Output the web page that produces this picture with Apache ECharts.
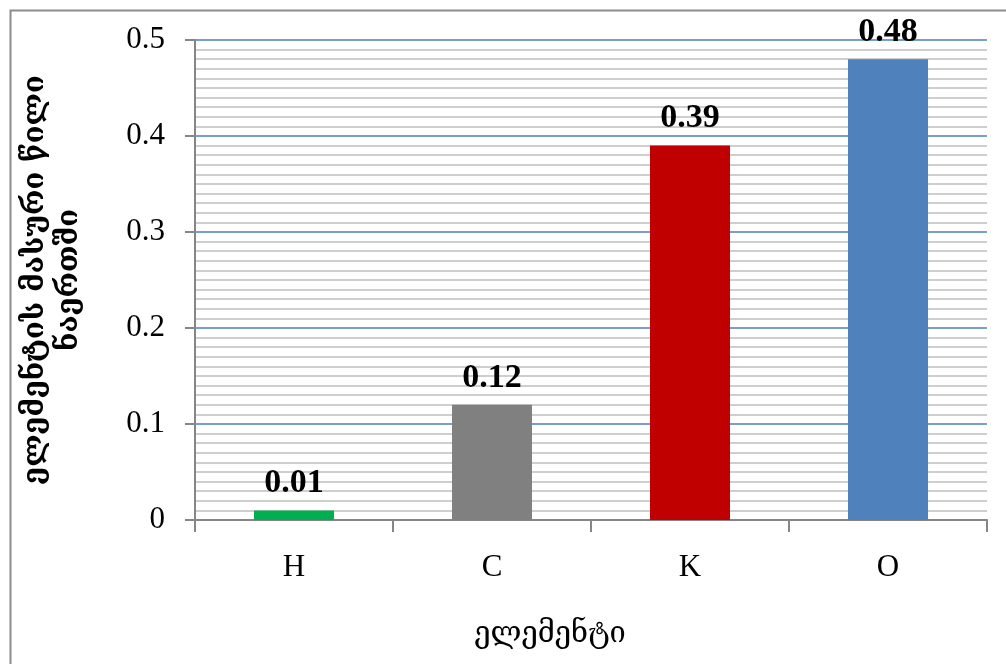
<!DOCTYPE html>
<html>
<head>
<meta charset="utf-8">
<script src="https://cdn.jsdelivr.net/npm/echarts@6/dist/echarts.min.js"></script>
<style>
  html, body { margin: 0; padding: 0; background: #ffffff; }
  #chart { width: 1006px; height: 664px; }
</style>
</head>
<body>
<div id="chart"></div>
<script>
// Mass fraction of each element in the compound
const elements = ['H', 'C', 'K', 'O'];
const massFractions = [0.01, 0.12, 0.39, 0.48];
const barColors = ['#00b050', '#808080', '#c00000', '#4f81bd'];
const yTicks = [0, 0.1, 0.2, 0.3, 0.4, 0.5];

const xAxisTitle = 'ელემენტი';
const yAxisTitle = 'ელემენტის მასური წილი\nნაერთში';

const serif = '"Liberation Serif", "DejaVu Serif", serif';
const georgian = '"DejaVu Serif", "DejaVu Sans", serif';

const chart = echarts.init(document.getElementById('chart'));

chart.setOption({
  backgroundColor: '#ffffff',
  animation: false,
  graphic: [{
    type: 'rect',
    left: 8, top: 8,
    shape: { width: 1100, height: 800 },
    style: { fill: 'none', stroke: '#8c8c8c', lineWidth: 2 },
    silent: true,
    z: -10
  }],
  grid: { left: 195, right: 19, top: 40, bottom: 144, containLabel: false },
  xAxis: {
    type: 'category',
    data: elements,
    boundaryGap: true,
    name: xAxisTitle,
    nameLocation: 'middle',
    nameGap: 100,
    nameTextStyle: {
      fontFamily: georgian, fontSize: 29, color: '#000',
      padding: [0, 82, 0, 0]
    },
    axisLine: { show: true, lineStyle: { color: '#868686', width: 2 } },
    axisTick: { show: true, alignWithLabel: false, length: 12, lineStyle: { color: '#868686', width: 2 } },
    axisLabel: { fontFamily: serif, fontSize: 31, color: '#000', margin: 32 },
    splitLine: { show: false }
  },
  yAxis: {
    type: 'value',
    min: yTicks[0],
    max: yTicks[yTicks.length - 1],
    interval: 0.1,
    name: yAxisTitle,
    nameLocation: 'middle',
    nameRotate: 90,
    nameGap: 109,
    nameTextStyle: {
      fontFamily: georgian, fontSize: 29, fontWeight: 'bold', color: '#000',
      lineHeight: 34, align: 'center'
    },
    axisLine: { show: true, lineStyle: { color: '#868686', width: 2 } },
    axisTick: { show: true, length: 10, lineStyle: { color: '#868686', width: 2 } },
    axisLabel: { fontFamily: serif, fontSize: 31, color: '#000', margin: 30 },
    splitLine: { show: true, lineStyle: { color: '#4a7ebb', width: 1.5 } },
    minorTick: { show: false, splitNumber: 10 },
    minorSplitLine: { show: true, lineStyle: { color: '#bfbfbf', width: 1.5 } }
  },
  series: [{
    type: 'bar',
    data: massFractions.map((v, i) => ({ value: v, itemStyle: { color: barColors[i] } })),
    barWidth: 80,
    label: {
      show: true,
      position: 'top',
      distance: 10,
      fontFamily: serif,
      fontWeight: 'bold',
      fontSize: 34,
      color: '#000',
      formatter: p => String(p.value)
    },
    z: 3
  }]
});
</script>
</body>
</html>
